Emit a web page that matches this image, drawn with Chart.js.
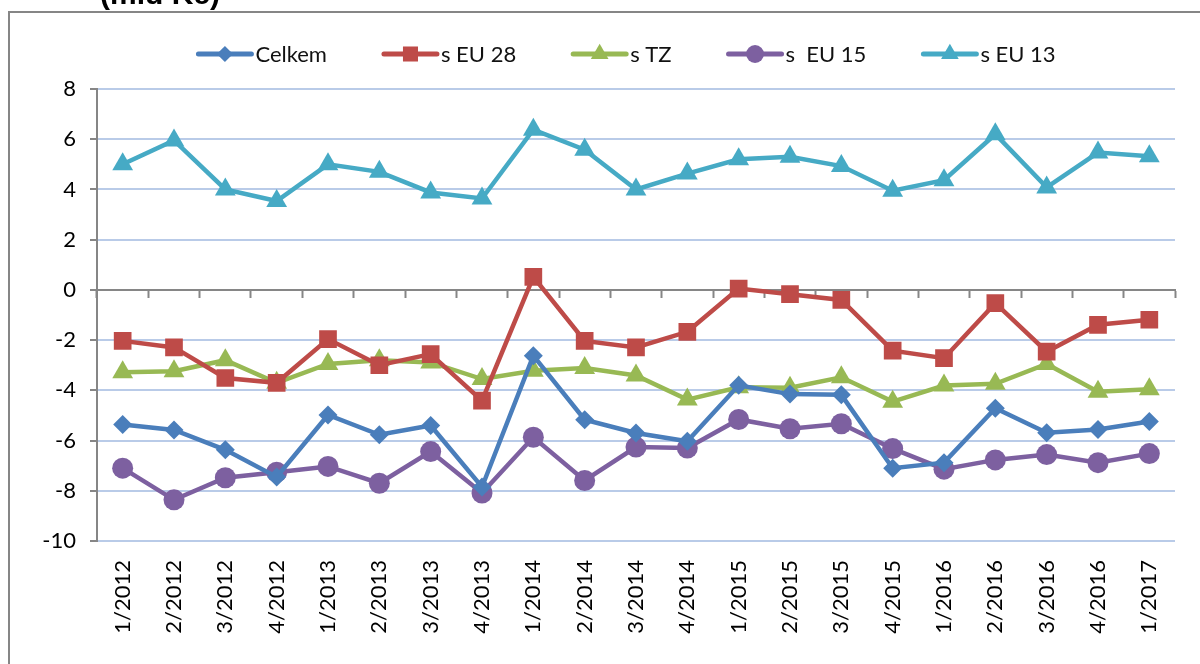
<!DOCTYPE html>
<html>
<head>
<meta charset="utf-8">
<script src="https://cdn.jsdelivr.net/npm/chart.js@4.4.1/dist/chart.umd.min.js"></script>
<style>
  html, body { margin: 0; padding: 0; background: #fff; }
  #wrap { width: 1200px; height: 664px; }
</style>
</head>
<body>
<div id="wrap"><canvas id="chart" width="1200" height="664"></canvas></div>
<script>
// Kvartaly
const kvartaly = [
  '1/2012', '2/2012', '3/2012', '4/2012',
  '1/2013', '2/2013', '3/2013', '4/2013',
  '1/2014', '2/2014', '3/2014', '4/2014',
  '1/2015', '2/2015', '3/2015', '4/2015',
  '1/2016', '2/2016', '3/2016', '4/2016',
  '1/2017'
];

// Saldo (mld Kc)
const celkem = [-5.36, -5.58, -6.37, -7.45, -4.98, -5.77, -5.40, -7.85, -2.62, -5.17,
  -5.70, -6.03, -3.80, -4.15, -4.18, -7.10, -6.88, -4.71, -5.69, -5.56, -5.24];
const sEU28 = [-2.03, -2.29, -3.51, -3.70, -1.96, -3.00, -2.56, -4.41, 0.52, -2.03,
  -2.29, -1.67, 0.05, -0.17, -0.40, -2.42, -2.72, -0.53, -2.46, -1.39, -1.19];
const sTZ = [-3.28, -3.24, -2.80, -3.70, -2.95, -2.80, -2.89, -3.55, -3.22, -3.11,
  -3.41, -4.37, -3.88, -3.90, -3.48, -4.45, -3.81, -3.74, -2.95, -4.06, -3.96];
const sEU15 = [-7.10, -8.36, -7.48, -7.26, -7.03, -7.70, -6.44, -8.09, -5.87, -7.59,
  -6.26, -6.30, -5.16, -5.53, -5.33, -6.32, -7.14, -6.77, -6.56, -6.88, -6.52];
const sEU13 = [5.00, 5.95, 4.00, 3.54, 5.00, 4.70, 3.88, 3.64, 6.38, 5.58,
  4.00, 4.63, 5.20, 5.30, 4.93, 3.95, 4.37, 6.20, 4.08, 5.47, 5.32];

const nazvySerii = ['Celkem', 's EU 28', 's TZ', 's  EU 15', 's EU 13'];
const hodnotySerii = [celkem, sEU28, sTZ, sEU15, sEU13];
const barvy = ['#4a7ebb', '#be4b48', '#98b954', '#7d60a0', '#46aac5'];
const znacky = ['rectRot', 'rect', 'triangle', 'circle', 'triangle'];
const velikosti = [9.5, 12.5, 12, 10.5, 12];

const pismo = 'Lato, "Open Sans", sans-serif';

// Kresli znacku (legenda)
function kresliZnacku(ctx, typ, x, y, r, barva) {
  ctx.save();
  ctx.fillStyle = barva;
  ctx.beginPath();
  if (typ === 'rectRot') {
    ctx.moveTo(x - r, y); ctx.lineTo(x, y - r); ctx.lineTo(x + r, y); ctx.lineTo(x, y + r);
  } else if (typ === 'rect') {
    const s = r * Math.SQRT1_2;
    ctx.rect(x - s, y - s, 2 * s, 2 * s);
  } else if (typ === 'triangle') {
    ctx.moveTo(x, y - r);
    ctx.lineTo(x + r * Math.sin(2 * Math.PI / 3), y - r * Math.cos(2 * Math.PI / 3));
    ctx.lineTo(x + r * Math.sin(4 * Math.PI / 3), y - r * Math.cos(4 * Math.PI / 3));
  } else {
    ctx.arc(x, y, r, 0, Math.PI * 2);
  }
  ctx.closePath();
  ctx.fill();
  ctx.restore();
}

// Ramecek, nadpis a legenda
const ramecekPlugin = {
  id: 'ramecek',
  beforeDraw(chart) {
    const ctx = chart.ctx;
    ctx.save();
    ctx.fillStyle = '#fff';
    ctx.fillRect(0, 0, chart.width, chart.height);
    ctx.strokeStyle = '#868686';
    ctx.lineWidth = 2;
    ctx.strokeRect(9, 12, 1300, 800);
    ctx.fillStyle = '#000';
    ctx.font = 'bold 30px "Liberation Sans", Arial, sans-serif';
    ctx.textBaseline = 'alphabetic';
    ctx.fillText('(mld Kč)', 100, 4);
    ctx.restore();
  },
  afterDraw(chart) {
    const ctx = chart.ctx;
    ctx.save();
    ctx.font = '22px ' + pismo;
    const delkaCary = 53, mezera = 4, odstup = 57, y = 54;
    const sirky = nazvySerii.map(n => ctx.measureText(n).width);
    const celkova = sirky.reduce((a, w) => a + delkaCary + mezera + w, 0) + odstup * (nazvySerii.length - 1);
    let x = 627 - celkova / 2;
    nazvySerii.forEach((nazev, i) => {
      ctx.strokeStyle = barvy[i];
      ctx.lineWidth = 5;
      ctx.lineCap = 'round';
      ctx.beginPath();
      ctx.moveTo(x, y);
      ctx.lineTo(x + delkaCary, y);
      ctx.stroke();
      kresliZnacku(ctx, znacky[i], x + delkaCary / 2, y, velikosti[i] * 0.85, barvy[i]);
      ctx.fillStyle = '#111';
      ctx.textBaseline = 'middle';
      ctx.textAlign = 'left';
      ctx.fillText(nazev, x + delkaCary + mezera, y + 1);
      x += delkaCary + mezera + sirky[i] + odstup;
    });
    ctx.restore();
  }
};

const ctx = document.getElementById('chart').getContext('2d');
new Chart(ctx, {
  type: 'line',
  data: {
    labels: kvartaly,
    datasets: hodnotySerii.map((hodnoty, i) => ({
      label: nazvySerii[i],
      data: hodnoty,
      borderColor: barvy[i],
      backgroundColor: barvy[i],
      borderWidth: 4.5,
      pointStyle: znacky[i],
      pointRadius: velikosti[i],
      pointBorderWidth: 0,
      pointBackgroundColor: barvy[i],
      tension: 0,
      fill: false
    }))
  },
  options: {
    responsive: false,
    animation: false,
    devicePixelRatio: 1,
    layout: { padding: { top: 89, right: 25, left: 0, bottom: 0 } },
    plugins: {
      legend: { display: false },
      tooltip: { enabled: false }
    },
    scales: {
      x: {
        type: 'category',
        position: 'bottom',
        offset: true,
        grid: { display: false, drawTicks: false },
        border: { display: false },
        ticks: {
          minRotation: 90,
          maxRotation: 90,
          padding: 19,
          color: '#000',
          font: { family: pismo, size: 22 }
        },
        afterFit: s => { s.height = 123; }
      },
      x2: {
        type: 'category',
        position: { y: 0 },
        offset: true,
        grid: {
          offset: true,
          drawOnChartArea: false,
          drawTicks: true,
          tickLength: 7,
          tickWidth: 2,
          tickColor: '#868686'
        },
        border: { display: true, color: '#868686', width: 2 },
        ticks: { display: false },
        afterFit: s => { s.height = 0; }
      },
      y: {
        min: -10,
        max: 8,
        ticks: {
          stepSize: 2,
          padding: 14,
          color: '#000',
          font: { family: pismo, size: 22 }
        },
        grid: {
          color: '#b9cbe8',
          lineWidth: 2,
          tickLength: 7,
          tickWidth: 2,
          tickColor: '#868686'
        },
        border: { display: true, color: '#868686', width: 2 },
        afterFit: s => { s.width = 97; }
      }
    }
  },
  plugins: [ramecekPlugin]
});
</script>
</body>
</html>
